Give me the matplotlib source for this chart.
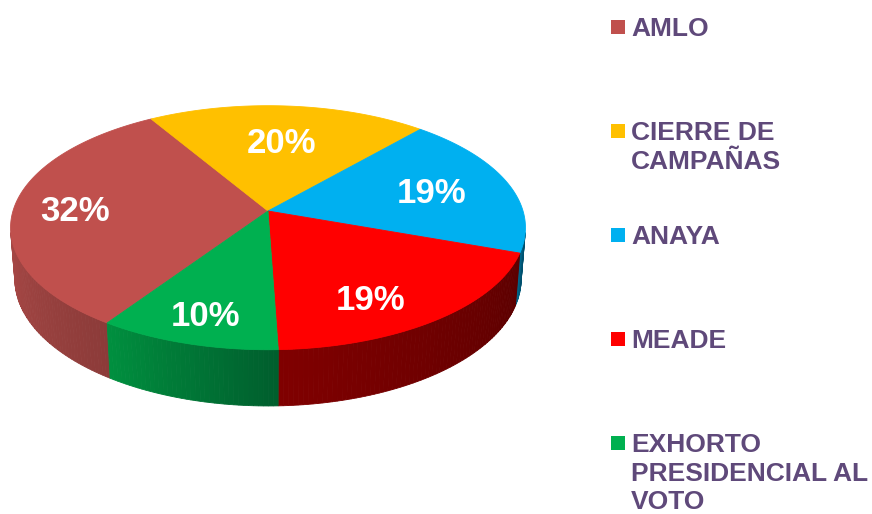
''' 3D pie chart: share of topics (AMLO, campaign close, Anaya, Meade, vote call) '''
import numpy as np
import matplotlib.pyplot as plt
from matplotlib.patches import Polygon, Rectangle
from matplotlib.colors import to_rgb

labels = ['AMLO', 'CIERRE DE\nCAMPAÑAS', 'ANAYA', 'MEADE',
          'EXHORTO\nPRESIDENCIAL AL\nVOTO']
values = [32, 20, 19, 19, 10]
pct_labels = ['32%', '20%', '19%', '19%', '10%']

top_colors = ['#C0504D', '#FFC000', '#00B0F0', '#FF0000', '#00B050']
side_light = ['#A84846', '#C09000', '#006C92', '#800000', '#00903F']
side_dark = ['#8C3B39', '#A07800', '#004F6C', '#5C0000', '#005E2D']
label_radius = [0.76, 0.64, 0.68, 0.75, 0.8]
label_turn = [0, 0, 0, -7, 0]   # nudge of label angle, degrees

# view of the disc
START = 236.0          # first slice starts here and goes clockwise
ELEV = np.radians(28)
DIST = 6.45
FOCAL = 1645
THICK = 0.23
CX, CY = 268, 211
PX = 100 / 72          # pixels per point


def project(ang, h=0.0, r=1.0):
    '''perspective projection of a point on the disc to pixel coords'''
    a = np.radians(ang)
    x = r * np.cos(a)
    y = r * np.sin(a)
    depth = DIST + y * np.cos(ELEV) - h * np.sin(ELEV)
    sx = CX + x * FOCAL / depth
    sy = CY - (y * np.sin(ELEV) + h * np.cos(ELEV)) * FOCAL / depth
    return sx, sy


def mix(c1, c2, f):
    a = np.array(to_rgb(c1))
    b = np.array(to_rgb(c2))
    return tuple(a * (1 - f) + b * f)


fig = plt.figure(figsize=(8.72, 5.14), dpi=100)
ax = fig.add_axes([0, 0, 1, 1])
ax.set_xlim(0, 872)
ax.set_ylim(514, 0)
ax.axis('off')

bounds = START - np.concatenate([[0], np.cumsum(values)]) * 360 / sum(values)
vis_hi = np.degrees(np.arcsin(-1 / (DIST * np.cos(ELEV))))
vis_lo = -180 - vis_hi

# sides
for i in range(len(values)):
    a0, a1 = bounds[i], bounds[i + 1]
    for shift in (-360, 0, 360):
        lo = max(a1 + shift, vis_lo)
        hi = min(a0 + shift, vis_hi)
        if hi <= lo:
            continue
        n = max(2, int(hi - lo) + 1)
        angs = np.linspace(lo, hi, n + 1)
        for k in range(n):
            t = np.linspace(angs[k], angs[k + 1], 4)
            tx, ty = project(t, 0)
            bx, by = project(t[::-1], -THICK)
            pts = np.column_stack([np.concatenate([tx, bx]),
                                   np.concatenate([ty, by])])
            f = ((angs[k] + angs[k + 1]) / 2 - lo) / (hi - lo)
            col = mix(side_light[i], side_dark[i], f)
            ax.add_patch(Polygon(pts, closed=True, facecolor=col,
                                 edgecolor=col, linewidth=0.6))

# top faces
for i in range(len(values)):
    t = np.linspace(bounds[i], bounds[i + 1], 120)
    tx, ty = project(t, 0)
    pts = np.column_stack([np.concatenate([[CX], tx]),
                           np.concatenate([[CY], ty])])
    ax.add_patch(Polygon(pts, closed=True, facecolor=top_colors[i],
                         edgecolor=top_colors[i], linewidth=0.6))

# percentage labels
fs = 25
for i in range(len(values)):
    mid = (bounds[i] + bounds[i + 1]) / 2 + label_turn[i]
    lx, ly = project(mid, 0, label_radius[i])
    ax.text(lx, ly + 0.358 * fs * PX, pct_labels[i], ha='center',
            va='baseline', fontsize=fs, fontweight='bold', color='white',
            family=['Liberation Sans', 'DejaVu Sans'])

# legend
lfs = 19
for i, lab in enumerate(labels):
    y0 = 27 + i * 104
    ax.add_patch(Rectangle((611, y0 - 7), 14, 14, facecolor=top_colors[i],
                           edgecolor='none'))
    for k, line in enumerate(lab.split('\n')):
        ax.text(631, y0 + k * 28.5 + 0.358 * lfs * PX, line, ha='left',
                va='baseline', fontsize=lfs, fontweight='bold',
                color='#5F497A', family=['Liberation Sans', 'DejaVu Sans'])

fig.savefig('out.png', dpi=100)
